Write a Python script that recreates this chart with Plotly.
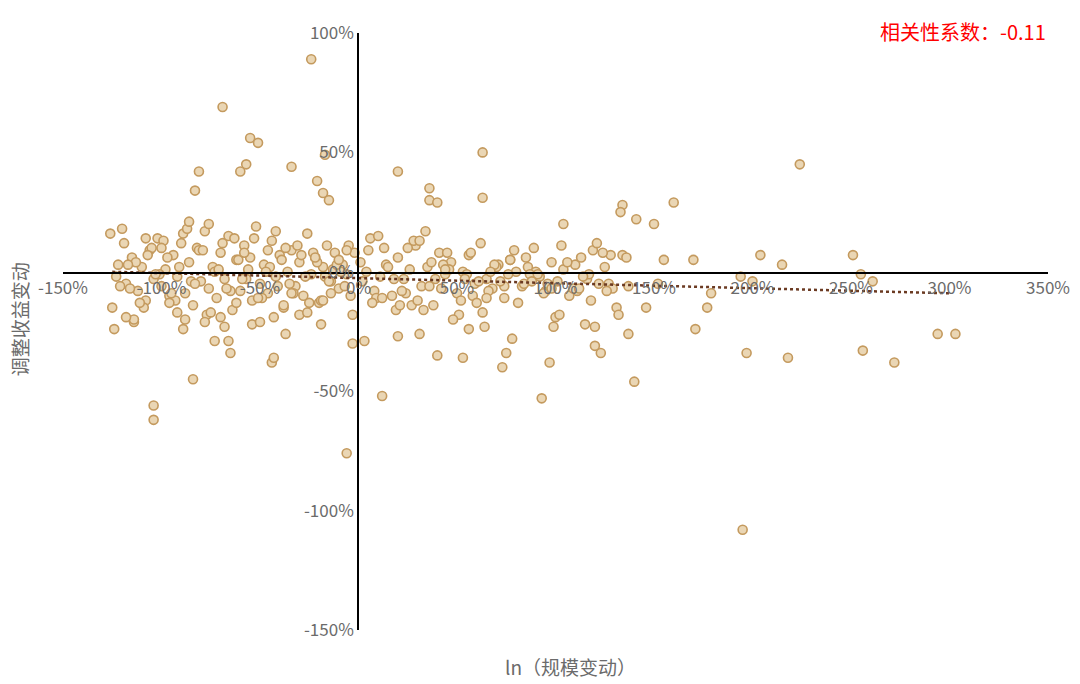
import plotly.graph_objects as go

# outliers and cluster points (in %)
x_pct = [-24,-69,-55,-51,-17,-34,-57,-60,-81,-83,-21,-18,-15,20,63,36,36,40,63,224,160,134,133,141,150,104,
         204,251,215,255,261,303,294,272,256,218,197,195,-6,-104,-104,-84,12,93,97,140,73,53,40,-44,-43,75,123,120,
         137,171,177,179,194,200,155,170,-3,3,-66,-65,-124,-114,-89,-73,99,115,120,56,64,78,20,31,-19,-37,-126,-120,
         -122,-118,-115,-112,-110,-108,-106,-104,-102,-100,-98,-96,-94,-92,-90,-88,-86,-84,-82,-80,-78,-76,-74,-72,
         -70,-68,-66,-64,-62,-60,-58,-56,-54,-52,-50,-48,-46,-44,-42,-40,-38,-36,-34,-32,-30,-28,-26,-24,-22,-20,
         -18,-16,-14,-12,-10,-8,-6,-4,-2,
         -123,-119,-116,-113,-109,-105,-101,-97,-93,-89,-85,-81,-77,-73,-69,-65,-61,-57,-53,-49,-45,-41,-37,-33,-29,-25,-21,-17,-13,-9,-5,
         -121,-117,-111,-107,-103,-99,-95,-91,-87,-83,-79,-75,-71,-67,-63,-59,-55,-51,-47,-43,-39,-35,-31,-27,-23,-19,-15,-11,-7,-3,
         -125,-114,-100,-92,-86,-78,-70,-62,-54,-46,-38,-30,-22,-14,-6,
         -118,-108,-96,-88,-76,-68,-58,-50,-42,-34,-26,-18,-10,
         2,5,8,11,14,17,20,23,26,29,32,35,38,41,44,47,50,53,56,59,62,65,68,71,74,77,80,83,86,89,92,95,98,101,104,107,110,113,116,119,122,125,128,131,134,137,
         4,9,13,18,24,28,33,37,42,46,52,57,61,66,70,76,81,85,90,96,100,106,111,117,121,127,132,
         1,7,15,22,27,34,39,45,51,58,63,69,74,79,87,94,102,109,114,124,129,
         6,12,19,25,30,36,43,48,55,60,67,72,84,91,103,112,118,126,136,146,152,
         10,21,31,44,54,65,77,88,98,108,130,144]
y_pct = [89,69,56,54,49,44,45,42,42,34,38,33,30,42,50,35,30,29,31,45,29,28,25,22,20,20,
         7,7,3,-1,-4,-26,-26,-38,-33,-36,-34,-108,-76,-56,-62,-45,-52,-53,-38,-46,-40,-36,-35,-38,-36,-34,-34,-31,
         -26,-24,-15,-9,-2,-4,5,5,-30,-29,-29,-34,-24,-21,-24,-29,-23,-22,-23,-24,-23,-28,-27,-26,-22,-26,16,18,
         3,-5,6,-8,2,-12,9,-3,14,-6,1,-10,7,-2,12,-9,4,-14,10,-4,17,-7,2,-11,
         8,-3,15,-16,5,-8,11,1,-12,19,-5,3,-9,13,-2,7,-15,0,9,-6,4,-10,16,-1,
         6,-13,2,11,-4,8,-7,3,-1,
         -10,8,-2,12,-7,4,-15,10,-1,6,-12,16,-4,9,-18,0,12,-8,5,-3,14,-11,2,-6,10,-9,7,-13,4,-2,1,
         0,11,-6,3,-13,7,-1,13,-9,2,18,-5,9,-17,1,-7,14,-3,6,-11,0,-19,5,-5,11,-2,8,-12,-4,3,
         -6,-18,-15,-20,10,-17,21,-21,-19,-13,-22,9,-14,-18,6,
         -9,9,-19,14,-13,-20,20,-23,8,-21,17,-9,-17,
         -12,5,-4,9,-8,-2,3,-10,6,-3,1,11,-6,2,-14,8,-1,4,-9,0,7,-5,12,-3,-7,3,-11,5,0,-6,2,10,-2,-8,4,-4,1,-10,3,6,-3,9,-5,2,7,
         -15,7,-6,0,-11,10,-3,-9,13,-16,4,-7,1,-12,8,-4,-8,2,-1,-13,6,0,-5,-19,4,-8,-1,
         12,-5,-18,4,-13,2,-8,-14,17,-3,8,-18,-10,-17,3,-6,9,-1,-9,-18,-7,
         -2,8,-7,14,-11,-16,10,-12,-6,3,-20,-1,-13,0,-4,-5,-1,11,-7,-12,-8,
         6,-15,-5,15,-14,13,1,-3,-11,5,-4,-7]

trend_x = [-125, 300]
trend_y = [0, -9]

x_ticks = list(range(-150, 351, 50))
y_ticks = list(range(-150, 101, 50))

fig = go.Figure()
fig.add_trace(go.Scatter(x=x_pct, y=y_pct, mode="markers",
    marker=dict(size=9, color="#EAD6B4", line=dict(color="#C49A5E", width=1.6))))
fig.add_trace(go.Scatter(x=trend_x, y=trend_y, mode="lines",
    line=dict(color="#6B3A22", width=2.5, dash="dot")))

tickfont = dict(size=17, color="#6b6b6b")
fig.update_layout(
    width=1080, height=684, showlegend=False,
    plot_bgcolor="white", paper_bgcolor="white",
    margin=dict(l=55, r=40, t=25, b=62, autoexpand=False),
    font=dict(family="Noto Sans CJK SC"),
    xaxis=dict(range=[-150, 350], tickvals=x_ticks, ticktext=[f"{v}%" for v in x_ticks],
               showgrid=False, zeroline=False, showline=True, linecolor="black", linewidth=1.5,
               anchor="free", position=(622-265)/597, ticks="", tickfont=tickfont, automargin=False),
    yaxis=dict(range=[-150, 100], tickvals=y_ticks, ticktext=[f"{v}%" for v in y_ticks],
               showgrid=False, zeroline=False, showline=True, linecolor="black", linewidth=1.5,
               anchor="free", position=(350-55)/985, ticks="", tickfont=tickfont, automargin=False),
    annotations=[
        dict(text="相关性系数：-0.11", xref="paper", yref="paper", x=1.0, y=1.03,
             xanchor="right", yanchor="top", showarrow=False, font=dict(size=20, color="red")),
        dict(text="ln（规模变动）", xref="paper", yref="paper", x=0.515, y=-0.035,
             xanchor="center", yanchor="top", showarrow=False, font=dict(size=19, color="#6b6b6b")),
        dict(text="调整收益变动", xref="paper", yref="paper", x=-0.044, y=0.52, textangle=-90,
             xanchor="center", yanchor="middle", showarrow=False, font=dict(size=19, color="#6b6b6b")),
    ],
)
fig.write_html("out.html")
